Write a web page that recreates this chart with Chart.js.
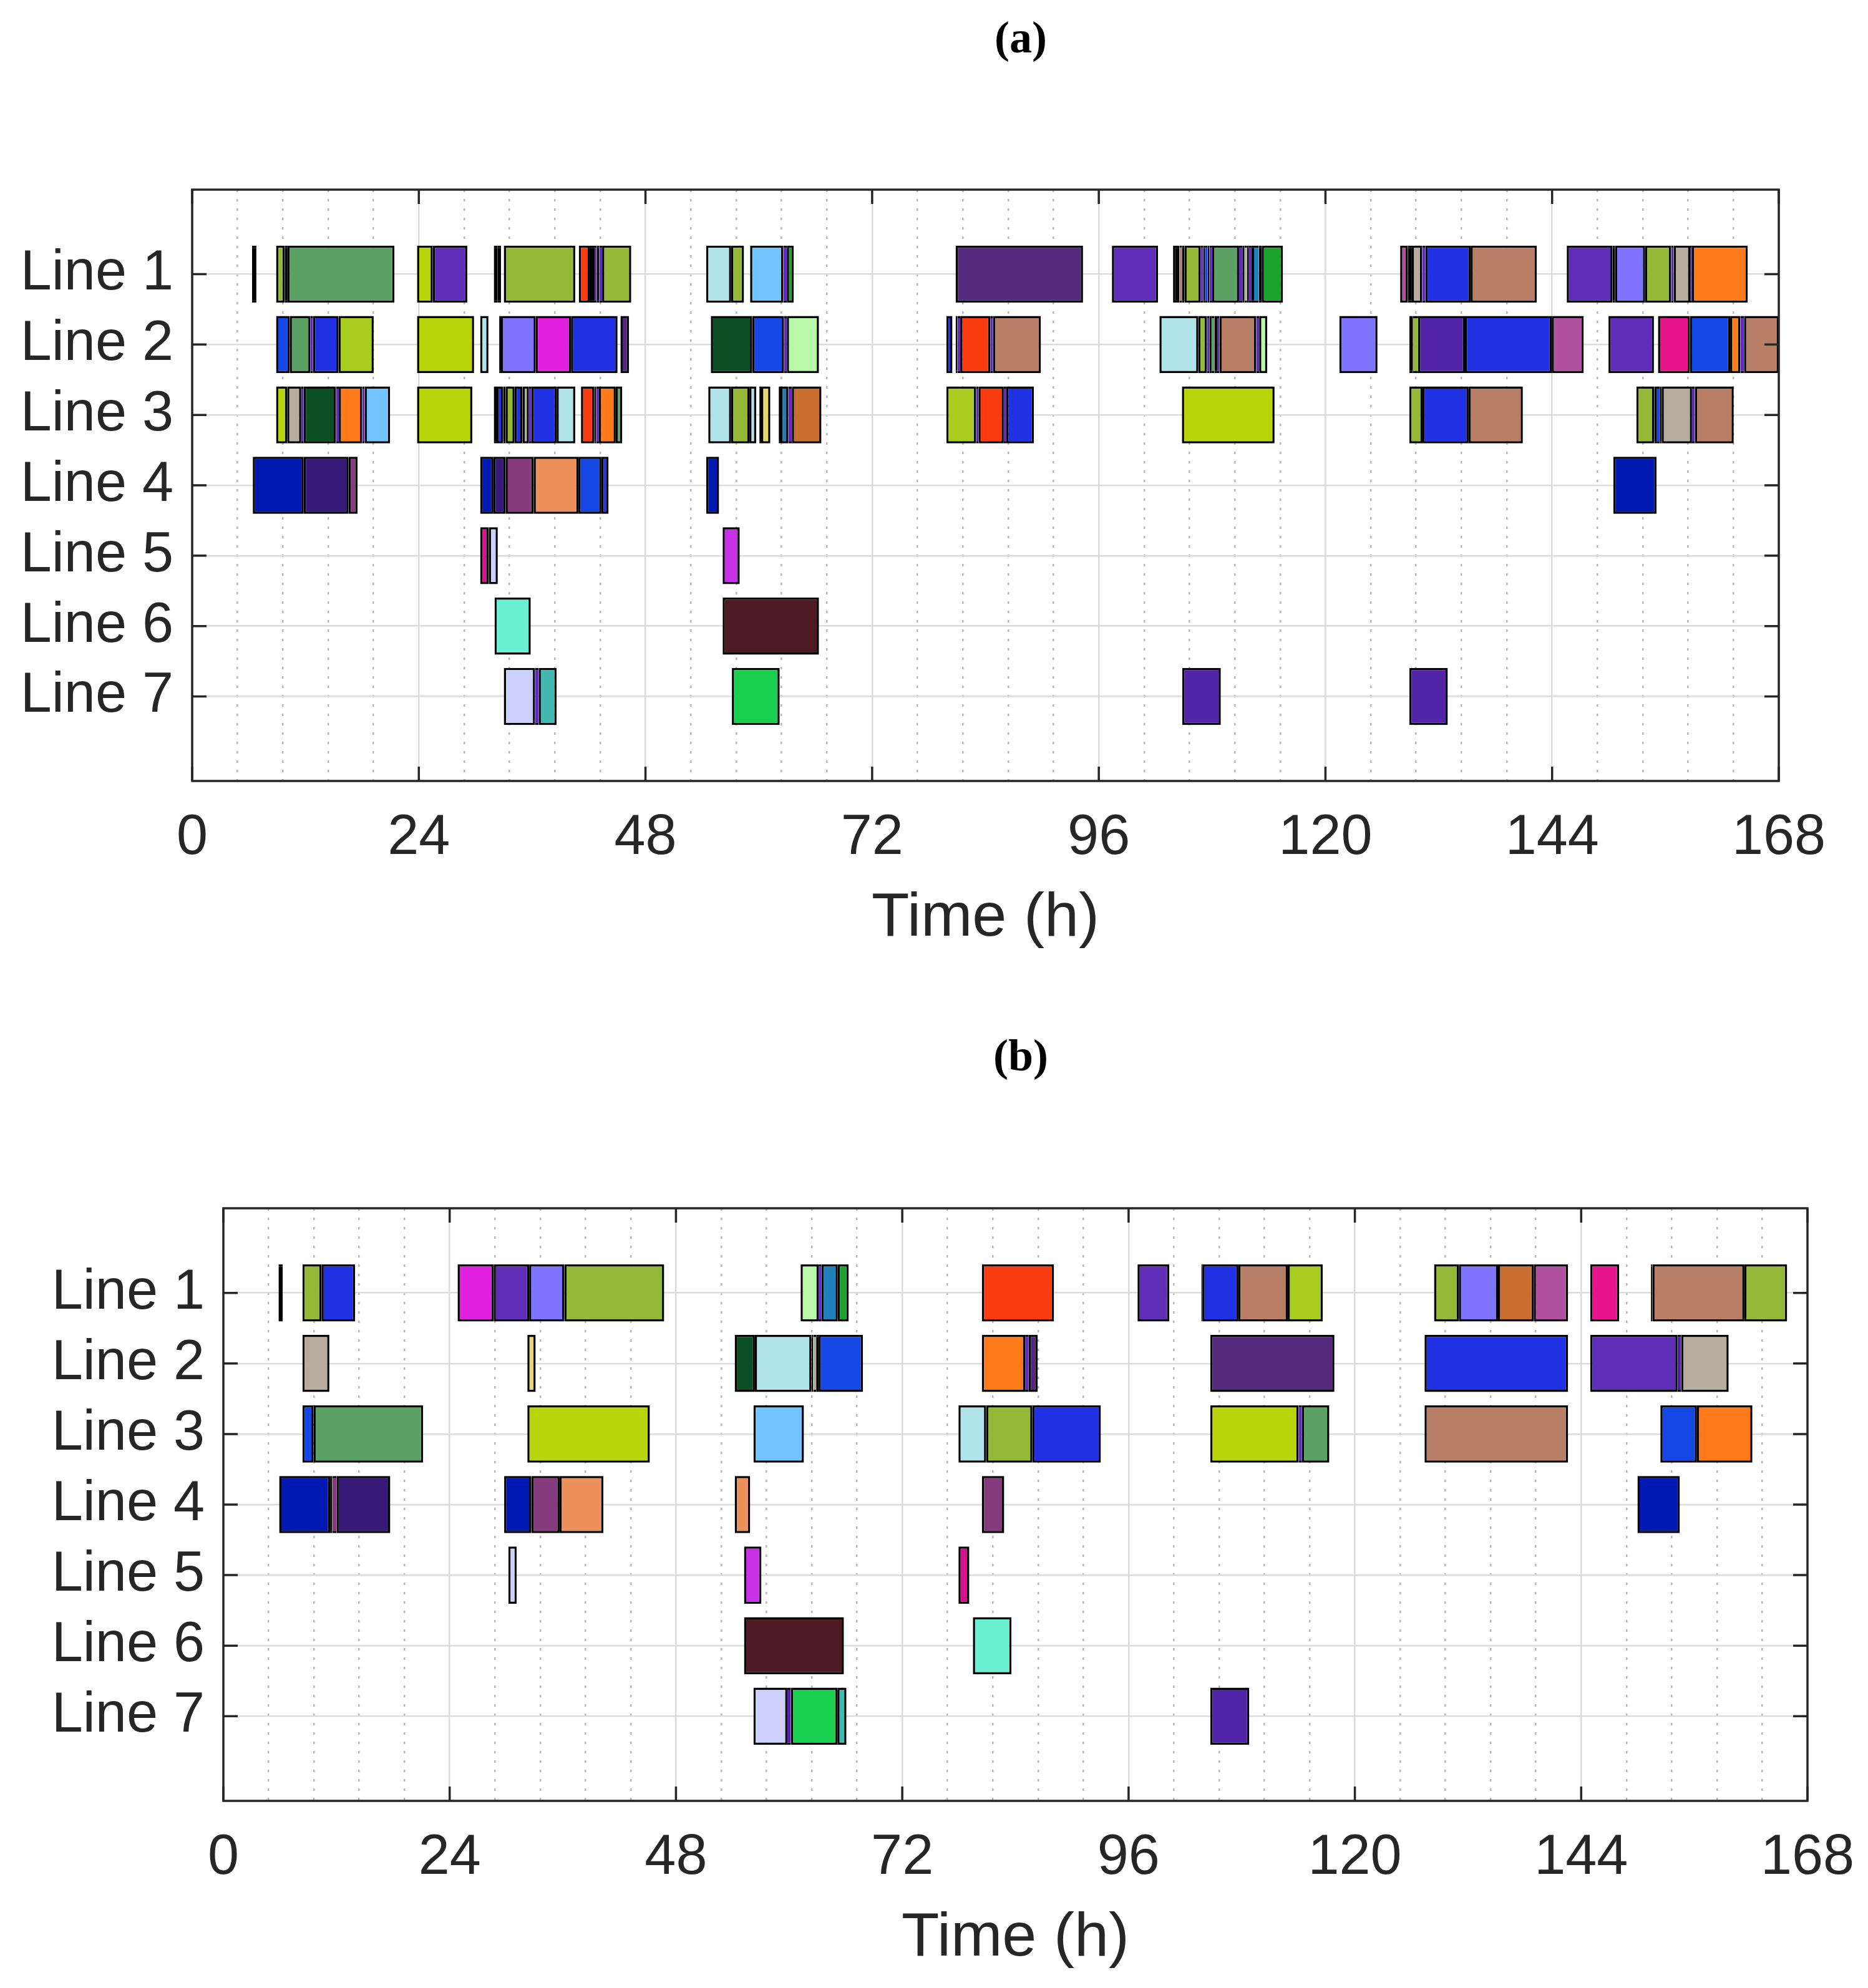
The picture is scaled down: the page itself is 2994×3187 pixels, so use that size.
<!DOCTYPE html>
<html>
<head>
<meta charset="utf-8">
<title>Gantt lines</title>
<script src="https://cdn.jsdelivr.net/npm/chart.js@4.4.1/dist/chart.umd.min.js"></script>
<style>
  html, body { margin: 0; padding: 0; background: #fff; }
  body { width: 2994px; height: 3187px; position: relative; overflow: hidden; }
  .panel { position: absolute; left: 0; width: 2994px; }
  .titulo { position: absolute; left: 1436px; width: 400px; text-align: center; line-height: 1;
            font: bold 72px "Liberation Serif", "DejaVu Serif", serif; color: #000; }
</style>
</head>
<body>
<div class="panel" style="top:0; height:1600px;"><canvas id="chartA"></canvas></div>
<div class="panel" style="top:1600px; height:1587px;"><canvas id="chartB"></canvas></div>
<div class="titulo" style="top:19px;">(a)</div>
<div class="titulo" style="top:1651px;">(b)</div>

<script>
// ── DATOS ─────────────────────────────────────────────

const xTicks  = [0, 24, 48, 72, 96, 120, 144, 168];
const yTicks  = [1, 2, 3, 4, 5, 6, 7];
const yLabels = ['Line 1', 'Line 2', 'Line 3', 'Line 4', 'Line 5', 'Line 6', 'Line 7'];
const xTitle  = 'Time (h)';

// (a) segmentos por línea: [inicio h, fin h, trabajo]
const a1 = [
    [6.34, 6.80, 'T'],
    [8.89, 9.80, 'P01'], [9.80, 10.10, 'T'], [10.10, 21.42, 'P02'],
    [23.81, 25.48, 'P03'], [25.48, 29.13, 'P04'],
    [31.94, 32.32, 'T'], [32.32, 32.70, 'T'],
    [33.00, 40.56, 'P01'],
    [40.94, 42.08, 'P05'], [42.08, 42.61, 'T'], [42.61, 42.84, 'P04'], [42.84, 43.11, 'T'], [43.11, 43.41, 'P04'], [43.41, 46.49, 'P01'],
    [54.43, 57.07, 'P09'], [57.07, 58.43, 'P01'],
    [59.08, 62.59, 'P16'], [62.59, 62.97, 'P04'], [62.97, 63.69, 'P25'],
    [80.84, 94.33, 'P27'],
    [97.39, 102.27, 'P04'],
    [103.86, 104.54, 'T'], [104.54, 104.80, 'P28'], [104.80, 105.07, 'T'], [105.07, 106.77, 'P01'], [106.77, 107.07, 'P04'],
    [107.07, 107.23, 'T'], [107.23, 107.53, 'P06'], [107.53, 107.71, 'T'], [107.71, 108.01, 'P04'], [108.01, 110.85, 'P02'],
    [110.85, 111.20, 'P04'], [111.20, 111.43, 'T'], [111.43, 111.70, 'P13'], [111.70, 111.90, 'T'], [111.90, 112.17, 'P04'],
    [112.17, 112.44, 'T'], [112.44, 112.94, 'P30'], [112.94, 113.25, 'T'], [113.25, 115.50, 'P25'],
    [127.91, 128.72, 'P36'], [128.72, 129.15, 'T'], [129.15, 130.24, 'P13'], [130.24, 130.59, 'P04'], [130.59, 135.37, 'P07'], [135.37, 142.37, 'P28'],
    [145.55, 150.40, 'P04'], [150.40, 150.67, 'T'], [150.67, 153.85, 'P10'], [153.85, 156.60, 'P01'], [156.60, 156.87, 'P04'],
    [156.87, 158.62, 'P13'], [158.62, 158.81, 'P04'], [158.81, 164.71, 'P15']
];
const a2 = [
    [8.89, 10.33, 'P06'], [10.33, 12.53, 'P02'], [12.53, 12.80, 'P04'], [12.80, 15.50, 'P07'], [15.50, 19.22, 'P08'],
    [23.81, 29.85, 'P03'],
    [30.50, 31.37, 'P09'],
    [32.51, 32.70, 'T'], [32.70, 36.38, 'P10'], [36.38, 40.11, 'P11'], [40.11, 45.04, 'P07'],
    [45.35, 46.26, 'P12'],
    [54.92, 59.30, 'P14'], [59.30, 62.67, 'P06'], [62.67, 62.97, 'P04'], [62.97, 66.37, 'P26'],
    [79.86, 80.50, 'P07'],
    [80.84, 81.03, 'T'], [81.03, 81.33, 'P04'], [81.33, 84.51, 'P05'], [84.51, 84.81, 'P04'], [84.81, 89.87, 'P28'],
    [102.42, 106.54, 'P09'], [106.54, 107.45, 'P01'], [107.45, 107.71, 'P04'], [107.71, 107.94, 'T'], [107.94, 108.24, 'P02'],
    [108.24, 108.54, 'T'], [108.54, 108.77, 'P04'], [108.77, 112.67, 'P28'], [112.67, 112.98, 'P04'], [112.98, 113.83, 'P26'],
    [121.47, 125.51, 'P10'],
    [128.88, 129.27, 'T'], [129.27, 129.81, 'P01'], [129.81, 134.77, 'P35'], [134.77, 143.96, 'P07'], [143.96, 147.34, 'P36'],
    [149.97, 154.78, 'P04'],
    [155.21, 158.58, 'P37'], [158.58, 162.85, 'P06'], [162.85, 163.93, 'P15'], [163.93, 164.32, 'P04'], [164.32, 168.00, 'P28']
];
const a3 = [
    [8.89, 10.06, 'P03'], [10.06, 11.55, 'P13'], [11.55, 11.81, 'P04'], [11.81, 15.23, 'P14'], [15.23, 15.53, 'P04'],
    [15.53, 18.00, 'P15'], [18.00, 18.27, 'P04'], [18.27, 20.96, 'P16'],
    [23.81, 29.66, 'P03'],
    [31.94, 32.24, 'T'], [32.24, 32.93, 'P07'], [32.93, 33.19, 'T'], [33.19, 34.14, 'P01'], [34.14, 34.98, 'P07'],
    [34.98, 35.66, 'P13'], [35.66, 35.93, 'P04'], [35.93, 38.59, 'P07'], [38.59, 40.56, 'P09'],
    [41.17, 42.57, 'P05'], [42.57, 42.77, 'T'], [42.77, 43.07, 'P04'], [43.07, 44.85, 'P15'], [44.85, 45.54, 'P02'],
    [54.65, 57.07, 'P09'], [57.07, 59.00, 'P01'], [59.00, 59.72, 'P09'],
    [60.06, 60.25, 'T'], [60.25, 61.22, 'P29'],
    [62.11, 62.30, 'T'], [62.30, 63.13, 'P30'], [63.13, 63.50, 'P04'], [63.50, 66.63, 'P31'],
    [79.86, 83.00, 'P08'], [83.00, 83.26, 'P04'], [83.26, 85.94, 'P05'], [85.94, 86.21, 'P04'], [86.21, 89.12, 'P07'],
    [104.80, 114.61, 'P03'],
    [128.88, 130.28, 'P01'], [130.28, 135.16, 'P07'], [135.16, 140.90, 'P28'],
    [152.92, 154.82, 'P01'], [154.82, 155.05, 'T'], [155.05, 155.40, 'P06'], [155.40, 155.60, 'T'], [155.60, 158.81, 'P13'],
    [158.81, 159.12, 'P04'], [159.12, 163.23, 'P28']
];
const a4 = [
    [6.42, 11.81, 'P17'], [11.81, 16.56, 'P18'], [16.56, 17.51, 'P19'],
    [30.50, 31.90, 'P17'], [31.90, 33.19, 'P18'], [33.19, 36.16, 'P19'], [36.16, 40.90, 'P20'], [40.90, 43.33, 'P06'], [43.33, 44.09, 'P07'],
    [54.43, 55.79, 'P17'],
    [150.48, 155.05, 'P17']
];
const a5 = [[30.50, 31.41, 'P21'], [31.41, 32.36, 'P22'], [56.17, 57.98, 'P32']];
const a6 = [[32.02, 35.85, 'P23'], [56.17, 66.37, 'P33']];
const a7 = [
    [33.00, 36.31, 'P22'], [36.31, 36.69, 'P04'], [36.69, 38.59, 'P24'],
    [57.15, 62.21, 'P34'], [104.84, 108.92, 'P35'], [128.88, 132.95, 'P35']
];

// (b)
const b1 = [
    [5.85, 6.30, 'T'],
    [8.39, 10.41, 'P01'], [10.41, 13.98, 'P07'],
    [24.84, 28.67, 'P11'], [28.67, 32.43, 'P04'], [32.43, 36.16, 'P10'], [36.16, 46.75, 'P01'],
    [61.22, 63.13, 'P26'], [63.13, 63.44, 'P04'], [63.44, 65.16, 'P30'], [65.16, 66.31, 'P25'],
    [80.44, 88.09, 'P05'],
    [96.95, 100.31, 'P04'],
    [103.72, 103.83, 'T'], [103.83, 107.65, 'P07'], [107.65, 112.88, 'P28'], [112.88, 116.59, 'P08'],
    [128.40, 131.03, 'P01'], [131.03, 135.18, 'P10'], [135.18, 138.97, 'P31'], [138.97, 142.61, 'P36'],
    [144.97, 148.03, 'P37'],
    [151.40, 151.55, 'T'], [151.55, 161.31, 'P28'], [161.31, 165.84, 'P01']
];
const b2 = [
    [8.39, 11.24, 'P13'],
    [32.24, 33.12, 'P29'],
    [54.23, 56.37, 'P14'], [56.37, 62.37, 'P09'], [62.37, 62.56, 'T'], [62.56, 62.87, 'P13'], [62.87, 63.13, 'T'], [63.13, 67.83, 'P06'],
    [80.44, 85.03, 'P15'], [85.03, 85.41, 'P04'], [85.41, 86.37, 'P12'],
    [104.67, 117.83, 'P27'],
    [127.39, 142.61, 'P07'],
    [144.97, 154.22, 'P04'], [154.22, 154.61, 'P35'], [154.61, 159.64, 'P13']
];
const b3 = [
    [8.39, 9.57, 'P06'], [9.57, 21.19, 'P02'],
    [32.24, 45.23, 'P03'],
    [56.22, 61.57, 'P16'],
    [77.96, 80.90, 'P09'], [80.90, 85.80, 'P01'], [85.80, 93.06, 'P07'],
    [104.67, 114.04, 'P03'], [114.04, 114.39, 'P04'], [114.39, 117.29, 'P02'],
    [127.39, 142.61, 'P28'],
    [152.40, 156.28, 'P06'], [156.28, 162.16, 'P15']
];
const b4 = [
    [5.92, 11.32, 'P17'], [11.32, 11.55, 'T'], [11.55, 12.00, 'P19'], [12.00, 17.70, 'P18'],
    [29.78, 32.66, 'P17'], [32.66, 35.66, 'P19'], [35.66, 40.30, 'P20'],
    [54.23, 55.87, 'P20'],
    [80.44, 82.81, 'P19'],
    [149.97, 154.46, 'P17']
];
const b5 = [[30.23, 31.11, 'P22'], [55.22, 57.06, 'P32'], [77.96, 79.11, 'P21']];
const b6 = [[55.22, 65.81, 'P33'], [79.49, 83.58, 'P23']];
const b7 = [
    [56.22, 59.81, 'P22'], [59.81, 60.19, 'P35'], [60.19, 65.12, 'P34'], [65.12, 66.08, 'P24'],
    [104.67, 108.80, 'P35']
];

// ── ESTILO ─────────────────────────────────────────────

const jobColor = {
    T: '#000000',
    P01: '#95b936', P02: '#5ba163', P03: '#b8d40a', P04: '#5f2db8', P05: '#f93d11',
    P06: '#1447e3', P07: '#2030e3', P08: '#a8cb20', P09: '#b1e4ea', P10: '#7f74ff',
    P11: '#e220e0', P12: '#52287a', P13: '#b8ac9e', P14: '#0b4f22', P15: '#ff7a1a',
    P16: '#72c4fc', P17: '#0019b1', P18: '#371a77', P19: '#853a7e', P20: '#ec905c',
    P21: '#d4138c', P22: '#ccd0fc', P23: '#6af0d0', P24: '#42b8b1', P25: '#1ca32e',
    P26: '#b8f8a8', P27: '#552a7d', P28: '#b87e66', P29: '#e6d672', P30: '#2080b8',
    P31: '#c86e2e', P32: '#c832e6', P33: '#4e1b25', P34: '#18d04e', P35: '#5424a8',
    P36: '#b052a0', P37: '#e8148c'
};

const fuente   = "'Liberation Sans', Arial, Helvetica, sans-serif";
const tinta    = '#262626';
const gris     = '#dcdcdc';
const borde    = 3.5;
// rejilla menor cada 24/5 h
const minorTicks = Array.from({ length: 36 }, (_, i) => i * 4.8);

function buildData(lines) {
    const pts = [];
    lines.forEach((segs, i) => segs.forEach(s => pts.push({ x: [s[0], s[1]], y: yTicks[i], job: s[2] })));
    return pts;
}

// tramos estrechos (cambios de formato) sin borde lateral
function anchoBorde(c) {
    if (!c.raw) return borde;
    const w = c.raw.x[1] - c.raw.x[0];
    return w >= 0.6 ? borde : { top: borde, bottom: borde, left: 0, right: 0 };
}

// marco y marcas hacia dentro, como en MATLAB
const cajaMatlab = {
    id: 'cajaMatlab',
    afterDatasetsDraw(chart) {
        const { ctx, chartArea: a, scales: { x, y } } = chart;
        const largo = 23;
        ctx.save();
        ctx.strokeStyle = tinta;
        ctx.lineWidth = 3.5;
        ctx.beginPath();
        x.ticks.forEach(t => {
            const px = x.getPixelForValue(t.value);
            ctx.moveTo(px, a.top);    ctx.lineTo(px, a.top + largo);
            ctx.moveTo(px, a.bottom); ctx.lineTo(px, a.bottom - largo);
        });
        y.ticks.forEach(t => {
            const py = y.getPixelForValue(t.value);
            ctx.moveTo(a.left, py);  ctx.lineTo(a.left + largo, py);
            ctx.moveTo(a.right, py); ctx.lineTo(a.right - largo, py);
        });
        ctx.stroke();
        ctx.strokeRect(a.left, a.top, a.right - a.left, a.bottom - a.top);
        ctx.restore();
    }
};

function crearGantt(id, lines, g) {
    return new Chart(document.getElementById(id), {
        type: 'bar',
        data: {
            datasets: [{
                data: buildData(lines),
                xAxisID: 'x',
                yAxisID: 'y',
                backgroundColor: c => (c.raw ? jobColor[c.raw.job] : '#000'),
                borderColor: '#000',
                borderWidth: anchoBorde,
                borderSkipped: false,
                barPercentage: 0.81,
                categoryPercentage: 1
            }]
        },
        options: {
            indexAxis: 'y',
            responsive: true,
            maintainAspectRatio: false,
            animation: false,
            layout: { autoPadding: false, padding: { top: g.top, right: g.right, bottom: g.bottom, left: 0 } },
            plugins: { legend: { display: false }, tooltip: { enabled: false } },
            scales: {
                x: {
                    type: 'linear', position: 'bottom', min: 0, max: 168, offset: false,
                    afterBuildTicks: s => { s.ticks = xTicks.map(v => ({ value: v })); },
                    afterFit: s => { s.height = 280; },
                    // separación con el eje vía lineHeight para no forzar relleno lateral
                    ticks: { font: { family: fuente, size: 90, lineHeight: 2.04 }, color: tinta, padding: 0, maxRotation: 0, autoSkip: false },
                    grid: { color: gris, lineWidth: 2.5, drawTicks: false, offset: false },
                    border: { display: false },
                    title: { display: true, text: xTitle, color: tinta, font: { family: fuente, size: 99 }, padding: { top: 0, bottom: 0 } }
                },
                xm: {
                    type: 'linear', position: 'top', min: 0, max: 168, offset: false,
                    afterBuildTicks: s => { s.ticks = minorTicks.map(v => ({ value: v })); },
                    afterFit: s => { s.height = 0; },
                    ticks: { display: false },
                    grid: {
                        color: c => (c.index % 5 === 0 ? 'rgba(0,0,0,0)' : '#b8b8b8'),
                        lineWidth: 2.5, drawTicks: false, offset: false, borderDash: [4, 11]
                    },
                    border: { display: false, dash: [4, 11] }
                },
                y: {
                    type: 'linear', min: -0.2, max: 8.2, reverse: true, offset: false,
                    afterBuildTicks: s => { s.ticks = yTicks.map(v => ({ value: v })); },
                    afterFit: s => { s.width = g.yWidth; },
                    ticks: { callback: v => yLabels[yTicks.indexOf(v)], font: { family: fuente, size: 90 }, color: tinta, padding: 30 },
                    grid: { color: gris, lineWidth: 2.5, drawTicks: false, offset: false },
                    border: { display: false }
                }
            }
        },
        plugins: [cajaMatlab]
    });
}

crearGantt('chartA', [a1, a2, a3, a4, a5, a6, a7], { top: 304, right: 143, bottom: 68, yWidth: 308 });
crearGantt('chartB', [b1, b2, b3, b4, b5, b6, b7], { top: 337, right: 97, bottom: 20, yWidth: 358 });
</script>
</body>
</html>
